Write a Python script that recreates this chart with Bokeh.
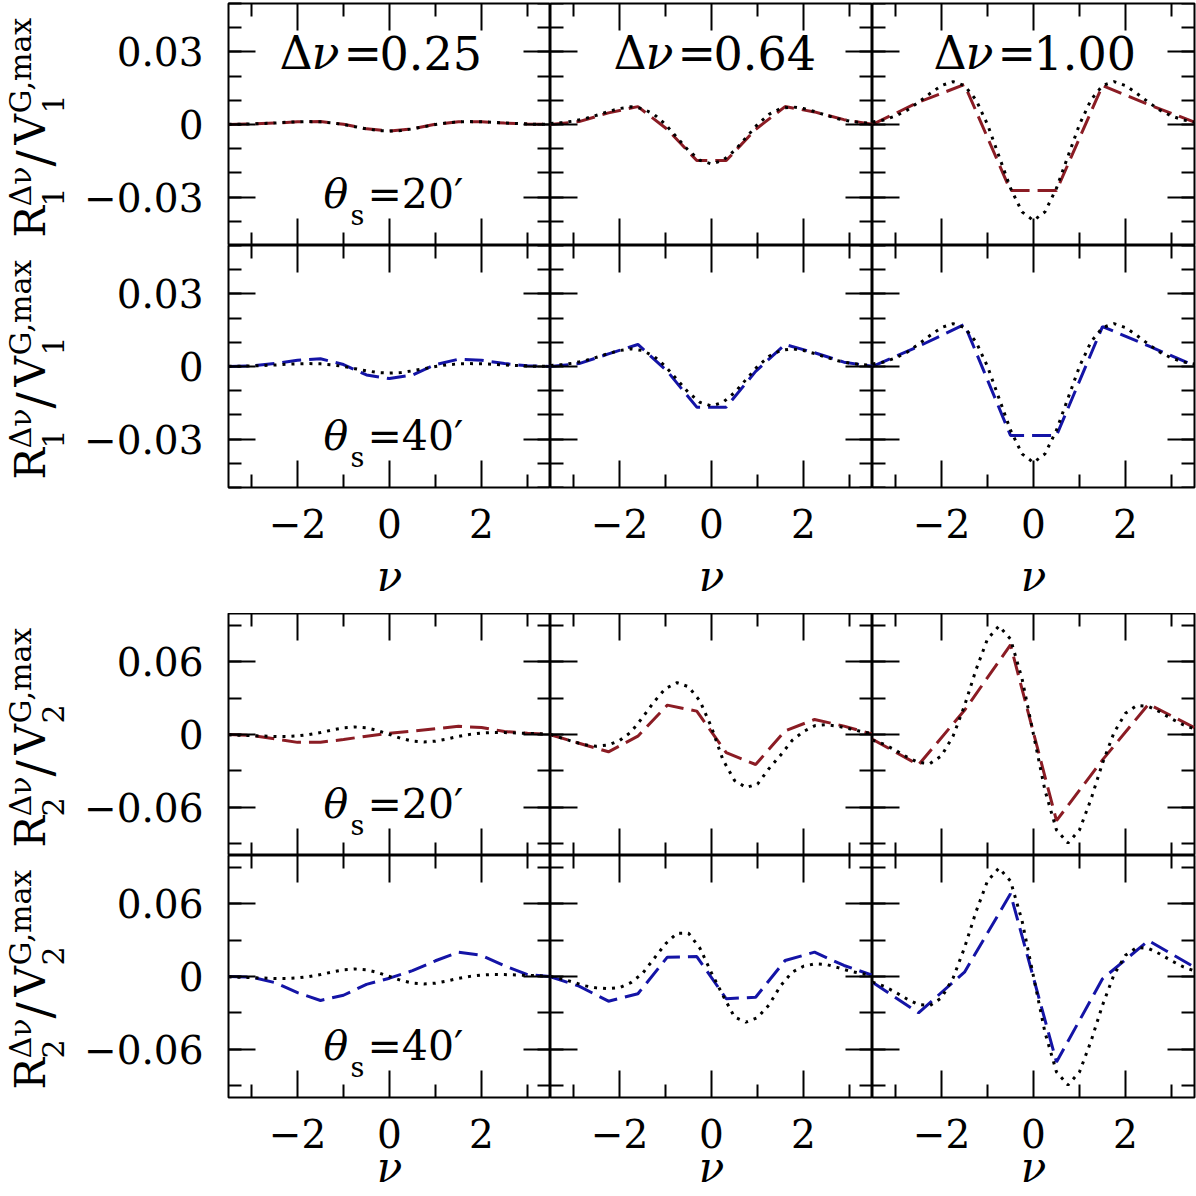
from bokeh.plotting import figure
from bokeh.models import LinearAxis, FixedTicker, Range1d, Label
from bokeh.layouts import row, column
from bokeh.embed import file_html
from bokeh.resources import INLINE

FONT = "DejaVu Serif"
RED = "#8b1c24"
BLUE = "#1414a6"

# ---------------- data ----------------
NU = [-3.5, -3.25, -3.0, -2.75, -2.5, -2.25, -2.0, -1.75, -1.5, -1.25, -1.0, -0.75, -0.5, -0.25,
      0.0, 0.25, 0.5, 0.75, 1.0, 1.25, 1.5, 1.75, 2.0, 2.25, 2.5, 2.75, 3.0, 3.25, 3.5]
NU_BIN_025 = [-3.5, -3.0, -2.5, -2.0, -1.5, -1.0, -0.5, 0.0, 0.5, 1.0, 1.5, 2.0, 2.5, 3.0, 3.5]
NU_BIN_064 = [-3.52, -2.88, -2.24, -1.6, -0.96, -0.32, 0.32, 0.96, 1.6, 2.24, 2.88, 3.52]
NU_BIN_100 = [-3.5, -2.5, -1.5, -0.5, 0.5, 1.5, 2.5, 3.5]
DELTA_NU = ["0.25", "0.64", "1.00"]
THETA_S = ["20", "40"]

# R1 / V1 : Gaussian expectation (dotted)
R1_GAUSS_025 = [0.0001, 0.0001, 0.0002, 0.0004, 0.0006, 0.0009, 0.0011, 0.0012, 0.0011, 0.0007, 0.0, -0.0009, -0.0018, -0.0025,
                -0.0027, -0.0025, -0.0018, -0.0009, 0.0, 0.0007, 0.0011, 0.0012, 0.0011, 0.0009, 0.0006, 0.0004, 0.0002, 0.0001, 0.0001]
R1_GAUSS_064 = [0.0004, 0.0008, 0.0014, 0.0024, 0.0038, 0.0053, 0.0066, 0.0073, 0.0066, 0.0042, 0.0, -0.0054, -0.0108, -0.0148,
                -0.0163, -0.0148, -0.0108, -0.0054, 0.0, 0.0042, 0.0066, 0.0073, 0.0066, 0.0053, 0.0038, 0.0024, 0.0014, 0.0008, 0.0004]
R1_GAUSS_100 = [0.0010, 0.0019, 0.0035, 0.0059, 0.0092, 0.0128, 0.0161, 0.0177, 0.0161, 0.0102, 0.0, -0.0131, -0.0263, -0.0361,
                -0.0397, -0.0361, -0.0263, -0.0131, 0.0, 0.0102, 0.0161, 0.0177, 0.0161, 0.0128, 0.0092, 0.0059, 0.0035, 0.0019, 0.0010]
# R1 / V1 : measured (dashed)
R1_MEAS_025_T20 = [0.0, 0.0002, 0.0006, 0.0011, 0.0012, 0.0001, -0.0018, -0.0027, -0.0018, 0.0001, 0.0011, 0.0011, 0.0006, 0.0002, 0.0]
R1_MEAS_025_T40 = [0.0, 0.0003, 0.0012, 0.0026, 0.0032, 0.0008, -0.0035, -0.005, -0.0035, 0.0008, 0.003, 0.0026, 0.0012, 0.0003, 0.0]
R1_MEAS_064_T20 = [0.0, 0.0012, 0.0048, 0.0074, -0.002, -0.0149, -0.0149, -0.002, 0.0074, 0.0052, 0.002, 0.0]
R1_MEAS_064_T40 = [0.0, 0.0012, 0.0052, 0.0091, -0.002, -0.0168, -0.0168, -0.002, 0.0091, 0.0057, 0.0018, 0.0]
R1_MEAS_100_T20 = [0.0, 0.0092, 0.0165, -0.0273, -0.0273, 0.0161, 0.0082, 0.001]
R1_MEAS_100_T40 = [0.0, 0.0083, 0.0174, -0.0285, -0.0285, 0.0165, 0.0085, 0.0003]

# R2 / V2 : Gaussian expectation (dotted)
R2_GAUSS_025 = [-0.0003, -0.0006, -0.0009, -0.0013, -0.0016, -0.0017, -0.0012, -0.0001, 0.0016, 0.0037, 0.0055, 0.0062, 0.0055, 0.0032,
                0.0, -0.0032, -0.0055, -0.0062, -0.0055, -0.0037, -0.0016, 0.0001, 0.0012, 0.0017, 0.0016, 0.0013, 0.0009, 0.0006, 0.0003]
R2_GAUSS_064_T20 = [0.0, -0.003, -0.006, -0.0085, -0.0097, -0.0087, -0.005, 0.002, 0.014, 0.027, 0.038, 0.0428, 0.0395, 0.0276,
                    0.006, -0.021, -0.038, -0.0438, -0.041, -0.0282, -0.0172, -0.005, 0.0025, 0.0073, 0.0081, 0.0068, 0.0048, 0.0025, 0.0006]
R2_GAUSS_064_T40 = [0.0, -0.002, -0.0048, -0.0077, -0.0094, -0.0101, -0.0092, -0.005, 0.0025, 0.0148, 0.027, 0.0357, 0.0358, 0.0233,
                    0.003, -0.0158, -0.0335, -0.0377, -0.034, -0.0235, -0.0078, 0.0035, 0.0085, 0.0105, 0.0099, 0.0073, 0.0045, 0.0025, 0.0008]
R2_GAUSS_100 = [-0.0046, -0.0081, -0.0130, -0.0186, -0.0232, -0.0240, -0.0176, -0.0015, 0.0237, 0.0535, 0.0789, 0.0897, 0.0789, 0.0463,
                0.0, -0.0463, -0.0789, -0.0897, -0.0789, -0.0535, -0.0237, 0.0015, 0.0176, 0.0240, 0.0232, 0.0186, 0.0130, 0.0081, 0.0046]
# R2 / V2 : measured (dashed)
R2_MEAS_025_T20 = [0.0, -0.0008, -0.0035, -0.0065, -0.0064, -0.0041, -0.0014, 0.0011, 0.0028, 0.0048, 0.0068, 0.0058, 0.0025, 0.001, 0.0]
R2_MEAS_025_T40 = [0.0, -0.0005, -0.005, -0.0133, -0.0198, -0.0155, -0.0065, -0.0014, 0.0048, 0.013, 0.0201, 0.0175, 0.0088, 0.0015, 0.0]
R2_MEAS_064_T20 = [0.0, -0.0072, -0.0143, -0.0014, 0.0243, 0.0193, -0.015, -0.0248, 0.003, 0.0124, 0.0069, 0.0]
R2_MEAS_064_T40 = [0.0, -0.008, -0.0204, -0.0143, 0.016, 0.0165, -0.0184, -0.0171, 0.0132, 0.0201, 0.0091, 0.0008]
R2_MEAS_100_T20 = [-0.004, -0.0251, 0.02, 0.074, -0.0712, -0.021, 0.0251, 0.0056]
R2_MEAS_100_T40 = [-0.0047, -0.030, 0.0036, 0.0683, -0.0707, -0.0019, 0.0297, 0.0077]

MEAS_X = [NU_BIN_025, NU_BIN_064, NU_BIN_100]
GROUPS = [
    {   # R1 / V1
        "yr": (-0.05, 0.05), "ymaj": [-0.03, 0.0, 0.03],
        "ymin": [-0.05, -0.04, -0.03, -0.02, -0.01, 0.0, 0.01, 0.02, 0.03, 0.04, 0.05],
        "ylab": {-0.03: "\u22120.03", 0.0: "0", 0.03: "0.03"}, "idx": "1",
        "gauss": [[R1_GAUSS_025, R1_GAUSS_064, R1_GAUSS_100], [R1_GAUSS_025, R1_GAUSS_064, R1_GAUSS_100]],
        "meas": [[R1_MEAS_025_T20, R1_MEAS_064_T20, R1_MEAS_100_T20], [R1_MEAS_025_T40, R1_MEAS_064_T40, R1_MEAS_100_T40]],
    },
    {   # R2 / V2
        "yr": (-0.1, 0.1), "ymaj": [-0.06, 0.0, 0.06],
        "ymin": [-0.09, -0.06, -0.03, 0.0, 0.03, 0.06, 0.09],
        "ylab": {-0.06: "\u22120.06", 0.0: "0", 0.06: "0.06"}, "idx": "2",
        "gauss": [[R2_GAUSS_025, R2_GAUSS_064_T20, R2_GAUSS_100], [R2_GAUSS_025, R2_GAUSS_064_T40, R2_GAUSS_100]],
        "meas": [[R2_MEAS_025_T20, R2_MEAS_064_T20, R2_MEAS_100_T20], [R2_MEAS_025_T40, R2_MEAS_064_T40, R2_MEAS_100_T40]],
    },
]
XMAJ = [-2, 0, 2]
XMIN = [-3, -1, 1, 3]
XLAB = {-2: "\u22122", 0: "0", 2: "2"}

# ---------------- layout constants ----------------
FW, FH = 322, 242
STRIP_W = 80
COL_W = [470, 322, 324]
COL_MBL = [148, 0, 0]
COL_MBR = [0, 0, 2]


def add_axis(p, side, major, minor, labels=None, fixed=None, nu_standoff=None):
    ax = LinearAxis(ticker=FixedTicker(ticks=major, minor_ticks=minor))
    ax.axis_line_color = None
    ax.major_tick_in = 27
    ax.major_tick_out = 0
    ax.minor_tick_in = 13
    ax.minor_tick_out = 0
    ax.major_tick_line_width = 2
    ax.minor_tick_line_width = 2
    ax.major_tick_line_color = "black"
    ax.minor_tick_line_color = "black"
    if labels is None:
        ax.major_label_text_color = None
        ax.major_label_standoff = 0
        ax.fixed_location = fixed
    else:
        ax.major_label_overrides = labels
        ax.major_label_text_font = FONT
        ax.major_label_text_font_size = "39px"
        ax.major_label_text_color = "black"
        ax.major_label_standoff = 25 if side == "left" else 21
    if nu_standoff is not None:
        ax.axis_label = "\u03bd"
        ax.axis_label_text_font = FONT
        ax.axis_label_text_font_size = "42px"
        ax.axis_label_text_font_style = "italic"
        ax.axis_label_text_color = "black"
        ax.axis_label_standoff = nu_standoff
    p.add_layout(ax, side)


def plabel(p, text, px_x, px_y, size, italic=False):
    # px_x: left edge from frame left; px_y: vertical centre from frame top
    y0, y1 = p.y_range.start, p.y_range.end
    x = -3.5 + px_x * 7.0 / FW
    y = y1 - px_y * (y1 - y0) / FH
    p.add_layout(Label(x=x, y=y, text=text, text_font=FONT, text_font_size=f"{size}px",
                       text_font_style="italic" if italic else "normal", text_color="black",
                       text_align="left", text_baseline="middle"))


def make_panel(g, r, c, height, mbt, mbb, nu_standoff=None):
    y0, y1 = g["yr"]
    p = figure(width=COL_W[c], height=height, x_range=Range1d(-3.5, 3.5), y_range=Range1d(y0, y1),
               output_backend="svg", toolbar_location=None, x_axis_location=None, y_axis_location=None,
               min_border_left=COL_MBL[c], min_border_right=COL_MBR[c],
               min_border_top=mbt, min_border_bottom=mbb)
    p.grid.visible = False
    p.outline_line_color = "black"
    p.outline_line_width = 2
    p.background_fill_color = "white"
    p.border_fill_color = "white"
    # axes with inward ticks on all four sides
    if c == 0:
        add_axis(p, "left", g["ymaj"], g["ymin"], labels=g["ylab"])
    else:
        add_axis(p, "left", g["ymaj"], g["ymin"], fixed=-3.5)
    add_axis(p, "right", g["ymaj"], g["ymin"], fixed=3.5)
    add_axis(p, "above", XMAJ, XMIN, fixed=y1)
    if nu_standoff is not None:
        add_axis(p, "below", XMAJ, XMIN, labels=XLAB, nu_standoff=nu_standoff)
    else:
        add_axis(p, "below", XMAJ, XMIN, fixed=y0)
    color = RED if r == 0 else BLUE
    p.line(MEAS_X[c], g["meas"][r][c], line_color=color, line_width=3, line_dash="19 8")
    p.line(NU, g["gauss"][r][c], line_color="black", line_width=3, line_dash="3 6")
    # annotations
    if r == 0 and g["idx"] == "1":
        start = [51, 63, 61][c]
        plabel(p, "\u0394", start, 49, 46)
        plabel(p, "\u03bd", start + 32, 49, 46, italic=True)
        plabel(p, "=", start + 64, 49, 46)
        plabel(p, DELTA_NU[c], start + 100, 49, 46)
    if c == 0:
        plabel(p, "\u03b8", 95, 190, 41, italic=True)
        plabel(p, "s", 122, 212, 27)
        plabel(p, "=" + THETA_S[r] + "\u2032", 139, 190, 41)
    return p


def ylabel_strip(height, mbt, mbb, idx):
    # the strip's frame is aligned with the panel frames of its row (FH px tall)
    p = figure(width=STRIP_W, height=height, x_range=Range1d(0, STRIP_W), y_range=Range1d(0, FH),
               output_backend="svg", toolbar_location=None, x_axis_location=None, y_axis_location=None,
               min_border_left=0, min_border_right=0, min_border_top=mbt, min_border_bottom=mbb)
    p.grid.visible = False
    p.outline_line_color = None
    cy = FH / 2.0
    pieces = [  # text, size, italic, centre x, start (px below frame centre)
        ("R", 42, False, 30, 113),
        ("\u0394\u03bd", 30, False, 20, 82),
        (idx, 30, False, 52, 82),
        ("/", 48, False, 34, 42),
        ("V", 42, False, 30, 20),
        ("G,max", 30, False, 20, -11),
        (idx, 30, False, 52, -11),
    ]
    for text, size, it, bx, st in pieces:
        p.add_layout(Label(x=bx, y=FH - (cy + st), text=text, text_font=FONT,
                           text_font_size=f"{size}px", text_font_style="italic" if it else "normal",
                           angle=1.5707963, text_align="left", text_baseline="middle",
                           text_color="black"))
    return p


rows = []
for gi, g in enumerate(GROUPS):
    h1 = 245 if gi == 0 else 242
    t1 = 3 if gi == 0 else 0
    r1 = [ylabel_strip(h1, t1, 0, g["idx"])] + [make_panel(g, 0, c, h1, t1, 0) for c in range(3)]
    rows.append(row(*r1, spacing=0))
    h2 = 368 if gi == 0 else 341
    nu_so = 11 if gi == 0 else -8
    r2 = [ylabel_strip(h2, 0, h2 - FH, g["idx"])] + [make_panel(g, 1, c, h2, 0, h2 - FH, nu_so) for c in range(3)]
    rows.append(row(*r2, spacing=0))

layout = column(*rows, spacing=0)
open("out.html", "w").write(file_html(layout, INLINE))
